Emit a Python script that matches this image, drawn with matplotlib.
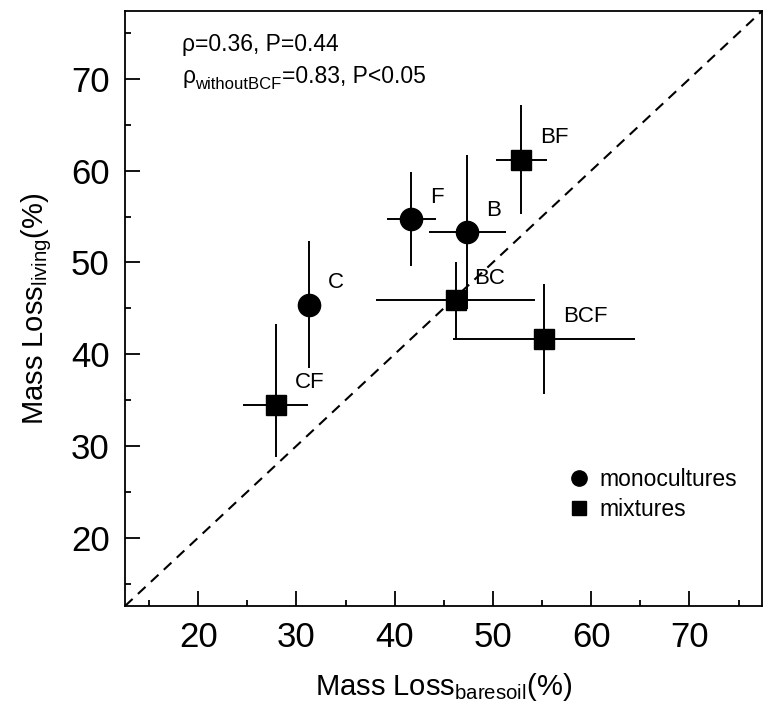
import matplotlib
matplotlib.use('Agg')
import matplotlib.pyplot as plt
from matplotlib.lines import Line2D

plt.rcParams['font.family'] = ['Liberation Sans', 'DejaVu Sans']
plt.rcParams['mathtext.fontset'] = 'custom'
plt.rcParams['mathtext.rm'] = 'Liberation Sans'
plt.rcParams['mathtext.it'] = 'Liberation Sans:italic'

# values
labels = ['C', 'F', 'B', 'BF', 'BC', 'BCF', 'CF']
kind = ['mono', 'mono', 'mono', 'mix', 'mix', 'mix', 'mix']
bare = [31.3, 41.7, 47.4, 52.9, 46.2, 55.2, 27.9]
living = [45.4, 54.7, 53.3, 61.2, 45.9, 41.7, 34.5]
bare_err = [1.1, 2.5, 3.9, 2.6, 8.1, 9.3, 3.3]
living_err_lo = [6.9, 5.1, 8.4, 5.9, 4.2, 6.0, 5.7]
living_err_hi = [6.9, 5.1, 8.4, 6.0, 4.1, 6.0, 8.8]
ticks = [20, 30, 40, 50, 60, 70]
lims = (12.55, 77.4)

fig = plt.figure(figsize=(7.63, 7.05), dpi=100)
ax = fig.add_axes([0.1638, 0.1404, 0.835, 0.844])

# 1:1 line
ax.plot(lims, lims, color='black', linestyle=(0, (5, 3.5)), linewidth=1.5, zorder=1)

for i in range(len(labels)):
    marker = 'o' if kind[i] == 'mono' else 's'
    ms = 16 if marker == 'o' else 14
    ax.errorbar(bare[i], living[i], xerr=bare_err[i],
                yerr=[[living_err_lo[i]], [living_err_hi[i]]],
                fmt=marker, color='black', ms=ms, elinewidth=1.4,
                capsize=0, zorder=3)
    ax.annotate(labels[i], (bare[i], living[i]), xytext=(19, 22),
                textcoords='offset pixels', ha='left', va='center', fontsize=16)

ax.set_xlim(lims)
ax.set_ylim(lims)
ax.set_xticks(ticks)
ax.set_yticks(ticks)
ax.set_xticks([15, 25, 35, 45, 55, 65, 75], minor=True)
ax.set_yticks([15, 25, 35, 45, 55, 65, 75], minor=True)
ax.tick_params(which='major', direction='in', length=11, width=1.3, labelsize=25,
               top=False, right=False, pad=11)
ax.tick_params(which='minor', direction='in', length=4, width=1.3, top=False, right=False)
for s in ax.spines.values():
    s.set_linewidth(1.3)

ax.set_xlabel('Mass Loss$_{\\mathrm{baresoil}}$(%)', fontsize=21, labelpad=12)
ax.set_ylabel('Mass Loss$_{\\mathrm{living}}$(%)', fontsize=21, labelpad=12)

ax.text(0.09, 0.932, 'ρ=0.36, P=0.44', transform=ax.transAxes, fontsize=16.5)
t1 = ax.text(0.09, 0.879, 'ρ', transform=ax.transAxes, fontsize=16.5)
t2 = ax.annotate('withoutBCF', xy=(1, 0), xycoords=t1, xytext=(0, -4),
                 textcoords='offset pixels', ha='left', va='bottom', fontsize=12)
ax.annotate('=0.83, P<0.05', xy=(1, 0), xycoords=t2, xytext=(0, 4),
            textcoords='offset pixels', ha='left', va='bottom', fontsize=16.5)

handles = [Line2D([], [], marker='o', color='black', linestyle='none', ms=11),
           Line2D([], [], marker='s', color='black', linestyle='none', ms=10)]
ax.legend(handles, ['monocultures', 'mixtures'], loc='upper right',
          bbox_to_anchor=(0.961, 0.232), frameon=False, fontsize=16.5,
          handletextpad=0.3, labelspacing=0.3, borderpad=0, borderaxespad=0,
          handlelength=1.2, alignment='left')

fig.savefig('out.png', dpi=100)
